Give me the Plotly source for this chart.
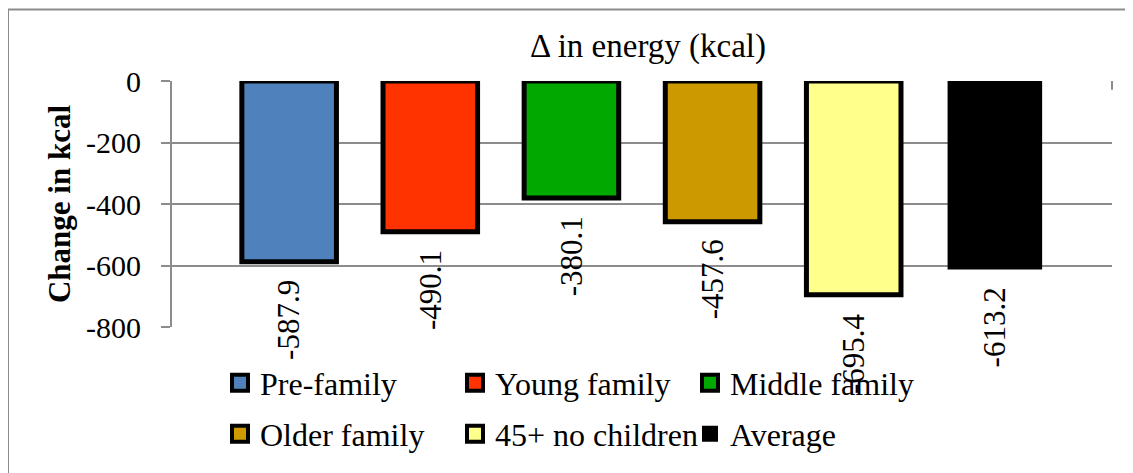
import plotly.graph_objects as go

groups = ["Pre-family", "Young family", "Middle family", "Older family", "45+ no children", "Average"]
energy_change = [-587.9, -490.1, -380.1, -457.6, -695.4, -613.2]
bar_colors = ["#4F81BD", "#FF3300", "#00A800", "#CC9900", "#FFFF8C", "#000000"]
y_ticks = [0, -200, -400, -600, -800]

# page offset: the html body adds an 8px margin around the figure
OFF = 8
W, H = 1133 - OFF, 473 - OFF
L, R, T, B = 172 - OFF, 1112 - OFF, 81 - OFF, 332 - OFF
FONT = "Liberation Serif, Times New Roman, serif"
GRID = "#8C8C8C"


def px_x(px):
    return (px - OFF - L) / (R - L)


def px_y(py):
    return (B - (py - OFF)) / (B - T)


fig = go.Figure()

for i, (name, val, col) in enumerate(zip(groups, energy_change, bar_colors)):
    is_avg = name == "Average"
    fig.add_trace(go.Bar(
        x=[name], y=[val], width=0.67,
        marker=dict(color=col, line=dict(color="#000000", width=0 if is_avg else 5)),
        showlegend=False, hoverinfo="skip",
    ))
    # legend-only entries
    fig.add_trace(go.Scatter(
        x=[None], y=[None], mode="markers", name=name,
        marker=dict(symbol="square", size=16, color=col,
                    line=dict(color="#000000", width=0 if is_avg else 4)),
        legend="legend" if i < 3 else "legend2",
    ))
    # value label below the bar end, rotated
    fig.add_annotation(
        x=name, y=val, text=f"{val:.1f}", showarrow=False,
        textangle=-90, xanchor="center", yanchor="top", yshift=-16,
        font=dict(family=FONT, size=31, color="#000000"),
    )

legend_common = dict(
    orientation="h", xanchor="left", yanchor="middle",
    font=dict(family=FONT, size=32, color="#000000"),
    bgcolor="rgba(0,0,0,0)", entrywidth=190, entrywidthmode="pixels",
    itemclick=False, itemdoubleclick=False, tracegroupgap=0,
)

fig.update_layout(
    width=W, height=H,
    margin=dict(l=L, r=W - R, t=T, b=H - B, pad=0),
    paper_bgcolor="#FFFFFF", plot_bgcolor="#FFFFFF",
    barmode="overlay",
    title=dict(text="Δ in energy (kcal)", x=px_x(648), xref="paper", xanchor="center",
               y=1 - (45 - OFF) / H, yanchor="middle",
               font=dict(family=FONT, size=33, color="#000000")),
    legend=dict(x=px_x(220), y=px_y(389), **legend_common),
    legend2=dict(x=px_x(220), y=px_y(441), **legend_common),
    font=dict(family=FONT, color="#000000"),
)

fig.update_xaxes(
    range=[-0.83, 5.83], showticklabels=False, showgrid=False,
    showline=False, zeroline=False, fixedrange=True,
)
fig.update_yaxes(
    range=[-800, 0], tickvals=y_ticks, ticktext=[str(v) for v in y_ticks],
    showgrid=True, gridcolor=GRID, gridwidth=2,
    showline=True, linecolor=GRID, linewidth=2,
    ticks="outside", ticklen=9, tickcolor=GRID, tickwidth=2,
    ticklabelstandoff=14,
    tickfont=dict(family=FONT, size=30, color="#000000"),
    zeroline=False, fixedrange=True,
    title=dict(text="<b>Change in kcal</b>", standoff=6,
               font=dict(family=FONT, size=31, color="#000000")),
)

# outer chart border (right/bottom edges fall outside the picture)
fig.add_shape(type="rect", xref="paper", yref="paper",
              x0=px_x(8), y0=px_y(1400), x1=px_x(2000), y1=px_y(8),
              line=dict(color=GRID, width=2), fillcolor="rgba(0,0,0,0)", layer="below")
# category-axis end tick at the right side of the zero line
fig.add_shape(type="line", xref="paper", yref="paper",
              x0=1, x1=1, y0=1, y1=px_y(90), line=dict(color=GRID, width=2))

fig.write_html("out.html")
